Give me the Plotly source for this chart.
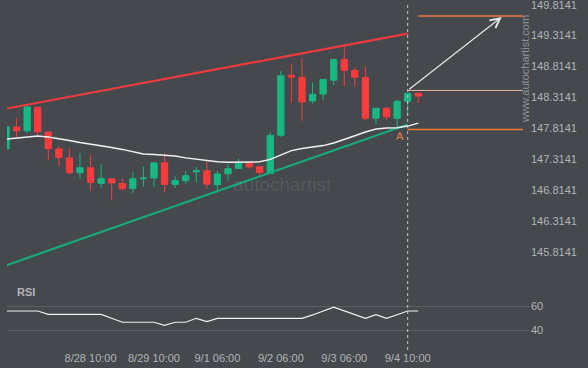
import plotly.graph_objects as go

# ---------------- data ----------------
idx = list(range(40))
opens = [147.486, 147.838, 147.779, 148.159, 147.758, 147.486, 147.341, 147.101, 147.181, 146.930,
         147.005, 146.925, 146.849, 147.005, 147.016, 147.261, 146.913, 146.973, 147.117, 147.133,
         146.909, 147.085, 147.170, 147.256, 147.197, 147.090, 147.705, 148.672, 148.639, 148.260,
         148.372, 148.596, 148.928, 148.752, 148.639, 147.982, 148.143, 147.982, 148.255, 148.383]
highs = [147.843, 147.982, 148.180, 148.159, 147.769, 147.534, 147.497, 147.417, 147.385, 147.245,
         147.005, 147.005, 147.117, 147.202, 147.261, 147.417, 147.042, 147.128, 147.197, 147.305,
         147.128, 147.245, 147.330, 147.256, 147.197, 147.753, 148.747, 148.859, 148.960, 148.555,
         148.607, 148.944, 149.141, 148.800, 148.811, 148.143, 148.159, 148.271, 148.383, 148.394]
lows = [147.486, 147.678, 147.742, 147.699, 147.298, 147.208, 147.074, 147.000, 146.808, 146.856,
        146.657, 146.808, 146.776, 146.872, 146.872, 146.780, 146.856, 146.920, 146.946, 146.845,
        146.780, 146.973, 147.170, 147.165, 147.053, 147.090, 147.678, 148.234, 147.939, 148.218,
        148.276, 148.516, 148.500, 148.490, 147.950, 147.886, 147.955, 147.843, 148.019, 148.229]
closes = [147.843, 147.779, 148.163, 147.763, 147.490, 147.346, 147.101, 147.181, 146.946, 147.005,
          146.936, 146.845, 147.005, 147.016, 147.261, 146.913, 146.973, 147.053, 147.133, 146.917,
          147.080, 147.165, 147.256, 147.197, 147.106, 147.705, 148.667, 148.644, 148.244, 148.367,
          148.607, 148.928, 148.756, 148.644, 147.982, 148.143, 148.003, 148.255, 148.383, 148.340]
ma = [147.646, 147.662, 147.678, 147.694, 147.678, 147.654, 147.622, 147.590, 147.566, 147.534,
      147.510, 147.478, 147.438, 147.405, 147.397, 147.389, 147.373, 147.341, 147.317, 147.293,
      147.277, 147.272, 147.272, 147.272, 147.277, 147.317, 147.381, 147.458, 147.494, 147.518,
      147.539, 147.582, 147.646, 147.699, 147.758, 147.806, 147.822, 147.827, 147.854, 147.902]
rsi = [56.1, 56.1, 56.1, 56.1, 53.3, 53.3, 53.3, 53.3, 53.3, 53.3,
       50.0, 46.7, 46.7, 46.7, 46.7, 44.2, 46.7, 46.7, 50.0, 47.2,
       50.0, 50.0, 50.0, 50.0, 50.0, 50.0, 50.0, 50.0, 50.0, 52.8,
       56.0, 59.2, 56.2, 53.0, 50.0, 53.0, 50.0, 53.0, 56.1, 56.1]

x_tick_idx = [8, 14, 20, 26, 32, 38]
x_tick_text = ["8/28 10:00", "8/29 10:00", "9/1 06:00", "9/2 06:00", "9/3 06:00", "9/4 10:00"]
y_tick_vals = [145.8141, 146.3141, 146.8141, 147.3141, 147.8141, 148.3141, 148.8141, 149.3141, 149.8141]
y_tick_text = ["145.8141", "146.3141", "146.8141", "147.3141", "147.8141", "148.3141", "148.8141", "149.3141", "149.8141"]
rsi_tick_vals = [40, 60]

# pattern lines (index, price)
resist_x = [0, 38]
resist_y = [148.135, 149.347]
support_x = [0, 38]
support_y = [145.605, 147.881]
target_level = 149.633
entry_level = 148.430
stop_level = 147.801
level_x_start = [39, 38, 38]
level_x_end = 48.9
arrow_from = (38, 148.430)
arrow_to = (46.9, 149.617)
event_idx = 38

# ---------------- style ----------------
BG = "#45484d"
GREEN = "#18b882"
RED = "#fb3b3c"
TXT = "#b2b5ba"
ORANGE = "#f07a3c"
FONT = "Liberation Sans, Arial, sans-serif"

fig = go.Figure()

fig.add_trace(go.Scatter(x=resist_x, y=resist_y, mode="lines",
                         line=dict(color="#f03a3d", width=2.2), hoverinfo="skip", showlegend=False))
fig.add_trace(go.Scatter(x=support_x, y=support_y, mode="lines",
                         line=dict(color="#17a97b", width=2.2), hoverinfo="skip", showlegend=False))

fig.add_trace(go.Candlestick(
    x=idx, open=opens, high=highs, low=lows, close=closes,
    increasing=dict(line=dict(color=GREEN, width=1), fillcolor=GREEN),
    decreasing=dict(line=dict(color=RED, width=1), fillcolor=RED),
    whiskerwidth=0, showlegend=False, xaxis="x", yaxis="y"))

fig.add_trace(go.Scatter(x=idx, y=ma, mode="lines",
                         line=dict(color="#f2f2f2", width=1.5), hoverinfo="skip", showlegend=False))

# levels
for xs, lvl, col, w in [(level_x_start[0], target_level, ORANGE, 1.5),
                        (level_x_start[1], entry_level, "#e8b89a", 1),
                        (level_x_start[2], stop_level, ORANGE, 1.5)]:
    fig.add_trace(go.Scatter(x=[xs, level_x_end], y=[lvl, lvl], mode="lines",
                             line=dict(color=col, width=w), hoverinfo="skip", showlegend=False))

# RSI
fig.add_trace(go.Scatter(x=idx, y=rsi, mode="lines", xaxis="x2", yaxis="y2",
                         line=dict(color="#f0f0f0", width=1.2), hoverinfo="skip", showlegend=False))

fig.update_layout(
    width=588, height=368,
    margin=dict(l=7, r=58, t=0, b=18, autoexpand=False),
    paper_bgcolor=BG, plot_bgcolor=BG,
    boxgap=0.15,
    font=dict(family=FONT, size=11, color=TXT),
    xaxis=dict(domain=[0, 1], anchor="y", range=[0.095, 49.57], showticklabels=False,
               showgrid=False, zeroline=False, showline=False, rangeslider=dict(visible=False),
               automargin=False),
    xaxis2=dict(domain=[0, 1], anchor="y2", matches="x", range=[0.095, 49.57],
                tickvals=x_tick_idx, ticktext=x_tick_text, showgrid=False, zeroline=False,
                showline=False, ticks="", tickfont=dict(size=11, color=TXT), automargin=False),
    yaxis=dict(domain=[0.2057, 1], side="right", range=[145.402, 149.8894],
               tickvals=y_tick_vals, ticktext=y_tick_text, showgrid=False, zeroline=False,
               showline=False, ticks="", tickfont=dict(size=11, color=TXT), automargin=False,
               ticklabeloverflow="allow"),
    yaxis2=dict(domain=[0, 0.1914], side="right", range=[23.6, 79.4],
                tickvals=rsi_tick_vals, showgrid=True, gridcolor="#5b5e63", gridwidth=1,
                zeroline=False, showline=False, ticks="", tickfont=dict(size=11, color=TXT),
                automargin=False),
    showlegend=False,
)

fig.add_shape(type="line", xref="x", yref="paper", x0=event_idx, x1=event_idx, y0=0, y1=0.99,
              line=dict(color="#c9c9c9", width=1, dash="3px,3px"))

fig.add_annotation(x=arrow_to[0], y=arrow_to[1], ax=arrow_from[0], ay=arrow_from[1],
                   xref="x", yref="y", axref="x", ayref="y", text="", showarrow=True,
                   arrowhead=5, arrowsize=1.6, arrowwidth=1.2, arrowcolor="#e8e8e8")

fig.add_annotation(x=37.3, y=147.694, xref="x", yref="y", text="A", showarrow=False,
                   font=dict(size=11, color="#e07b50"))

fig.add_annotation(x=0.0153, y=0.1666, xref="paper", yref="paper", xanchor="left", yanchor="middle",
                   text="<b>RSI</b>", showarrow=False, font=dict(size=11, color=TXT))

fig.add_annotation(x=0.9904, y=0.803, xref="paper", yref="paper", xanchor="center", yanchor="middle",
                   text="www.autochartist.com", textangle=-90, showarrow=False,
                   font=dict(size=11, color="#8f9297"))

fig.add_annotation(x=0.526, y=0.474, xref="paper", yref="paper", xanchor="center", yanchor="middle",
                   text="autochartist", showarrow=False,
                   font=dict(size=19, color="rgba(255,255,255,0.1)"))

fig.write_html("out.html", config={"displayModeBar": False},
               post_script="document.body.style.margin='0';document.body.style.background='#45484d';")
